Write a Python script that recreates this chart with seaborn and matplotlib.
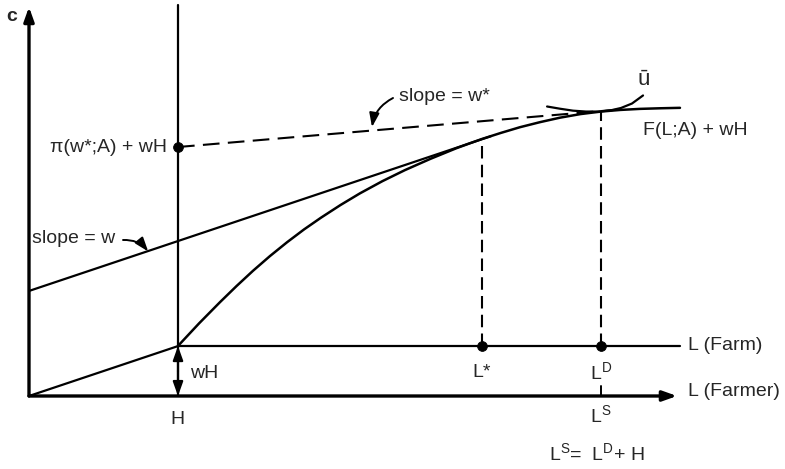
"""Ménage agricole : choix travail / consommation (schéma)"""

import matplotlib
matplotlib.use("Agg")
import matplotlib.pyplot as plt
import seaborn as sns

sns.set_theme(style="white")
plt.rcParams['font.family'] = ['Liberation Sans', 'DejaVu Sans']
plt.rcParams['mathtext.fontset'] = 'custom'
plt.rcParams['mathtext.rm'] = 'Liberation Sans'
plt.rcParams['mathtext.it'] = 'Liberation Sans:italic'

H = 1.0
w = 0.335
w_star = 0.085
L_star = 3.04
L_D = 3.839
pi_wH = 1.671          # pi(w*;A) + wH
budget_w_0 = 0.705     # ordonnée à l'origine de la droite de pente w
axe_x_fin = 4.349
axe_y_fin = 2.611
ferme_fin = 4.369

# courbe F(L;A) + wH
F_x = [1.000, 1.141, 1.282, 1.393, 1.503, 1.617, 1.732, 1.846, 1.960, 2.091, 2.221, 2.372, 2.523, 2.695,
       2.866, 2.953, 3.040, 3.168, 3.295, 3.430, 3.564, 3.701, 3.839, 3.970, 4.101, 4.235, 4.369]
F_y = [0.336, 0.487, 0.630, 0.738, 0.840, 0.939, 1.032, 1.118, 1.197, 1.282, 1.360, 1.442, 1.516, 1.592,
       1.662, 1.694, 1.725, 1.766, 1.804, 1.838, 1.868, 1.892, 1.909, 1.920, 1.927, 1.931, 1.934]

# courbe d'indifférence u barre
u_x = [3.477, 3.564, 3.651, 3.738, 3.819, 3.899, 3.973, 4.047, 4.121]
u_y = [1.943, 1.928, 1.915, 1.909, 1.909, 1.916, 1.933, 1.963, 2.017]


def ligne(ax, xs, ys, **kw):
    sns.lineplot(x=xs, y=ys, ax=ax, color='black', estimator=None, sort=False, **kw)


def fleche(ax, debut, fin, style='-|>', lw=1.6, rad=0.0):
    ax.annotate("", xy=fin, xytext=debut,
                arrowprops=dict(arrowstyle=style + ',head_length=0.7,head_width=0.25',
                                color='black', lw=lw, shrinkA=0, shrinkB=0,
                                connectionstyle=f'arc3,rad={rad}'))


fig = plt.figure(figsize=(7.85, 4.69), dpi=100)
ax = fig.add_axes([0, 0, 1, 1])
ax.set_xlim(-29 / 149, 756 / 149)
ax.set_ylim(-73 / 149, 396 / 149)
ax.axis('off')

# axes
fleche(ax, (0, 0), (0, axe_y_fin), lw=2.4)
fleche(ax, (0, 0), (axe_x_fin, 0), lw=2.4)
ligne(ax, [H, H], [0, 2.624], lw=1.6)
fleche(ax, (H, w * H / 2), (H, 0), lw=1.6)
fleche(ax, (H, w * H / 2), (H, w * H), lw=1.6)
ligne(ax, [L_D, L_D], [0, 0.067], lw=1.4)

# droites de budget
ligne(ax, [0, H], [0, w * H], lw=1.6)
ligne(ax, [H, ferme_fin], [w * H, w * H], lw=1.6)
ligne(ax, [0, 3.1], [budget_w_0, budget_w_0 + w * 3.1], lw=1.6)
ligne(ax, [H, 3.95], [pi_wH, pi_wH + w_star * (3.95 - H)], lw=1.5, linestyle=(0, (8, 4)))

# F et u
ligne(ax, F_x, F_y, lw=1.8)
ligne(ax, u_x, u_y, lw=1.6)

# verticales pointillées
ligne(ax, [L_star, L_star], [w * H, 1.725], lw=1.5, linestyle=(0, (6, 3)))
ligne(ax, [L_D, L_D], [w * H, 1.909], lw=1.5, linestyle=(0, (6, 3)))

sns.scatterplot(x=[H, L_star, L_D], y=[pi_wH, w * H, w * H], ax=ax,
                color='black', s=50, edgecolor='black', zorder=5)

# flèches des pentes
fleche(ax, (2.443, 2.0), (2.302, 1.805), lw=1.4, rad=0.25)
fleche(ax, (0.631, 1.047), (0.80, 0.97), lw=1.4, rad=-0.25)

fs = 14
ax.text(-0.114, 2.544, "c", fontsize=fs, ha='center', va='center', fontweight='bold')
ax.text(0.926, pi_wH, "π(w*;A) + wH", fontsize=fs, ha='right', va='center')
ax.text(2.483, 2.013, "slope = w*", fontsize=fs, ha='left', va='center')
ax.text(0.02, 1.060, "slope = w", fontsize=fs, ha='left', va='center')
ax.text(4.121, 1.785, "F(L;A) + wH", fontsize=fs, ha='left', va='center')
ax.text(4.128, 2.121, "ū", fontsize=fs + 2, ha='center', va='center')
ax.text(4.423, 0.342, "L (Farm)", fontsize=fs, ha='left', va='center')
ax.text(4.423, 0.027, "L (Farmer)", fontsize=fs, ha='left', va='center')
ax.text(L_star, 0.161, "L*", fontsize=fs, ha='center', va='center')
ax.text(L_D, 0.161, r"L$^\mathrm{D}$", fontsize=fs, ha='center', va='center')
ax.text(L_D, -0.128, r"L$^\mathrm{S}$", fontsize=fs, ha='center', va='center')
ax.text(0.993, -0.161, "H", fontsize=fs, ha='center', va='center')
ax.text(1.081, 0.154, "wH", fontsize=fs, ha='left', va='center')
ax.text(3.812, -0.383, r"L$^\mathrm{S}$=  L$^\mathrm{D}$+ H", fontsize=fs, ha='center', va='center')

fig.savefig("out.png", dpi=100, facecolor='white')
